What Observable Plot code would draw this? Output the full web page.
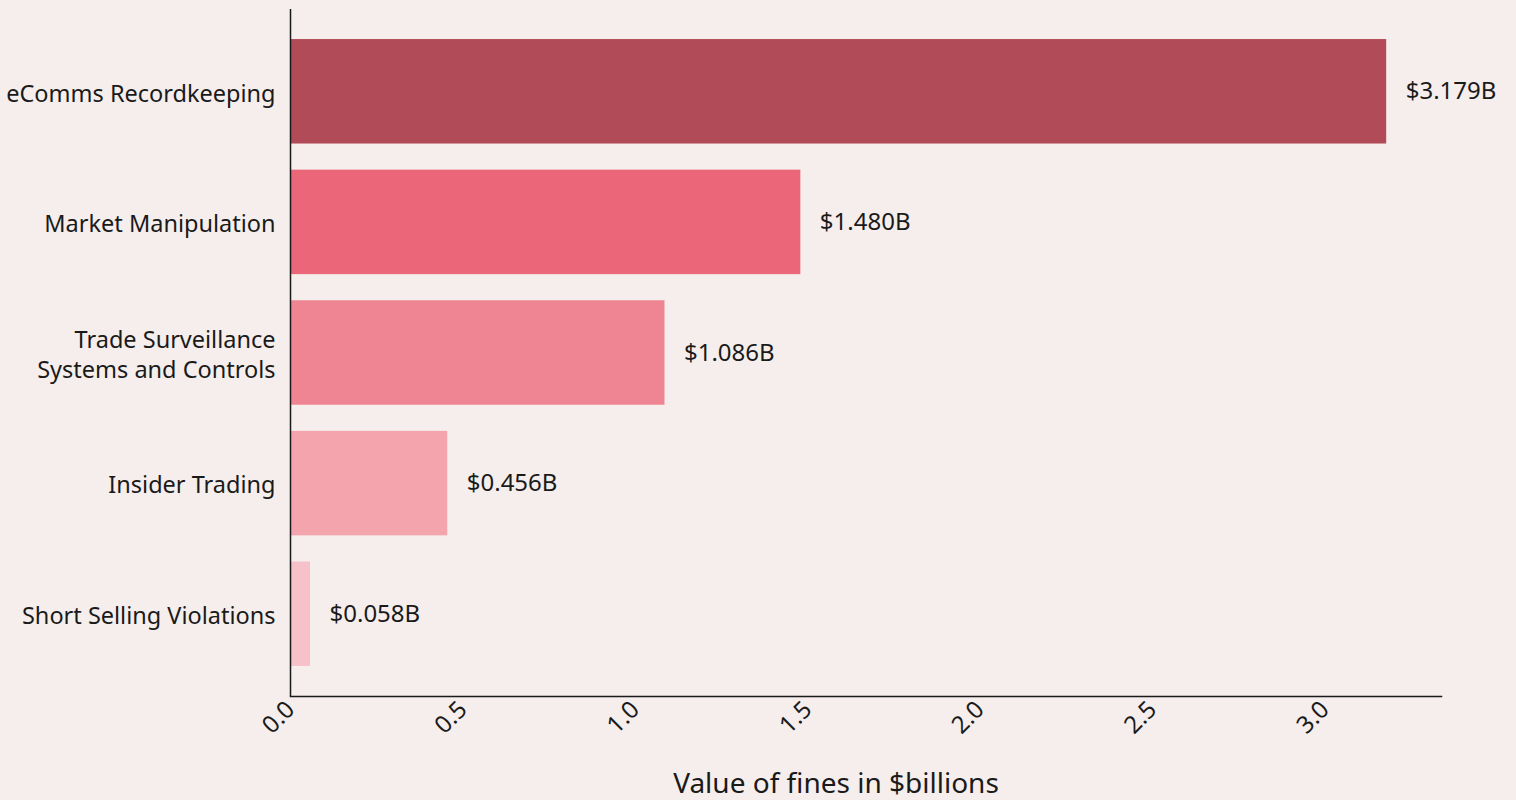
<!DOCTYPE html>
<html><head><meta charset="utf-8">
<script src="https://cdn.jsdelivr.net/npm/d3@7"></script>
<script src="https://cdn.jsdelivr.net/npm/@observablehq/plot@0.6"></script>
<style>body{margin:0;background:#f5eeec;}</style>
</head><body><div id="chart"></div>
<script>
const categories = ["eComms Recordkeeping", "Market Manipulation", "Trade Surveillance\nSystems and Controls", "Insider Trading", "Short Selling Violations"];
const values = [3.179, 1.480, 1.086, 0.456, 0.058];
const colors = ["#b14b58", "#eb6679", "#ef8492", "#f3a4ac", "#f6c1c9"];
const xTicks = [0, 0.5, 1, 1.5, 2, 2.5, 3];
const xLabel = "Value of fines in $billions";
const data = categories.map((c, i) => ({category: c, value: values[i]}));

const plot = Plot.plot({
  width: 1516, height: 800,
  marginTop: 9, marginBottom: 104, marginLeft: 290, marginRight: 75,
  style: {background: "#f5eeec", fontFamily: "'Noto Sans', sans-serif", color: "#1a1a1a"},
  x: {domain: [0, 3.179 * 1.05]},
  y: {domain: categories, paddingInner: 0.2, paddingOuter: 0.23, round: false},
  color: {domain: categories, range: colors},
  marks: [
    Plot.barX(data, {x: "value", y: "category", fill: "category"}),
    Plot.text(data, {x: "value", y: "category", text: d => "$" + d.value.toFixed(3) + "B", textAnchor: "start", dx: 19, fontSize: 24, fill: "#1a1a1a"}),
    Plot.axisX({ticks: xTicks, tickFormat: d => d.toFixed(1), tickSize: 0, tickPadding: 9, tickRotate: -45, fontSize: 24, label: null}),
    Plot.axisY({tickSize: 0, tickPadding: 15, fontSize: 23.5, lineHeight: 1.3, label: null}),
    Plot.text([xLabel], {frameAnchor: "bottom", dy: 96, dx: -30, fontSize: 28, fill: "#1a1a1a"}),
    Plot.ruleX([0], {stroke: "#1a1a1a", strokeWidth: 1.5}),
    Plot.frame({anchor: "bottom", stroke: "#1a1a1a", strokeWidth: 1.5})
  ]
});
document.getElementById("chart").appendChild(plot);
</script>
</body></html>
